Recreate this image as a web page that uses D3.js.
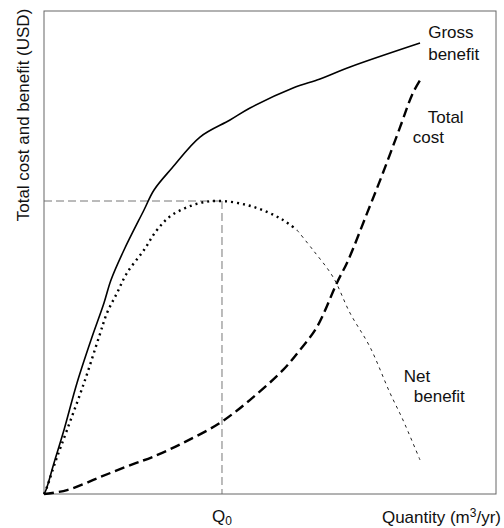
<!DOCTYPE html>
<html>
<head>
<meta charset="utf-8">
<script src="https://cdn.jsdelivr.net/npm/d3@7"></script>
<style>
  html, body { margin: 0; padding: 0; background: #fff; }
  svg { display: block; font-family: "Liberation Sans", Arial, Helvetica, sans-serif; }
</style>
</head>
<body>
<svg id="chart" width="504" height="528"></svg>
<script>
// ---- Data (relative units, 0-100 on both axes) ----
const grossX = [0, 0.44, 2.21, 4.42, 7.30, 10.40, 13.27, 14.82, 17.70, 22.12, 24.34, 28.32, 34.51, 41.15, 45.58, 55.09, 61.06, 67.70, 83.19];
const grossY = [0, 0.83, 6.42, 13.25, 22.98, 31.88, 39.54, 44.31, 50.52, 58.80, 62.94, 67.49, 73.91, 77.43, 79.92, 84.06, 85.92, 88.41, 93.37];

const costX = [0, 5.1, 12.4, 19.7, 24.1, 30.8, 38.9, 45.6, 52.9, 56.6, 60.4, 64.8, 67.3, 71.5, 75.0, 78.8, 81.6, 83.6];
const costY = [0, 0.8, 3.5, 6.2, 7.7, 10.6, 14.7, 19.5, 25.7, 29.8, 34.6, 43.7, 48.4, 58.2, 66.5, 76.0, 83.0, 86.3];

const netX = [0, 0.66, 2.65, 5.09, 8.85, 12.17, 13.94, 16.15, 18.36, 22.12, 25.00, 28.32, 34.51, 39.38, 44.91, 49.34, 52.88, 55.97, 59.51, 63.94, 67.70, 72.12, 76.55, 79.42, 83.19];
const netY = [0, 1.45, 7.04, 13.25, 22.98, 32.51, 37.47, 41.61, 45.76, 50.52, 54.66, 57.76, 60.25, 60.66, 59.83, 58.39, 56.73, 54.66, 50.52, 44.93, 37.47, 30.43, 20.91, 15.32, 7.04];

const optimumQ = 39.38;     // Q0
const optimumNet = 60.66;   // net benefit at Q0

const seriesLabels = [
  { lines: ["Gross", "benefit"], x: 85.0, y: [94.4, 89.9], dx: [0, 0] },
  { lines: ["Total", "cost"], x: 84.9, y: [76.8, 72.7], dx: [0, -15] },
  { lines: ["Net", "benefit"], x: 79.6, y: [23.2, 19.0], dx: [0, 10] }
];
const xTitle = "Quantity (m";
const yTitle = "Total cost and benefit (USD)";

// ---- Layout ----
const svg = d3.select("#chart");
const mLeft = 44, mRight = 496, mTop = 11, mBottom = 494;
const x = d3.scaleLinear().domain([0, 100]).range([mLeft, mRight]);
const y = d3.scaleLinear().domain([0, 100]).range([mBottom, mTop]);
const FS = 17;

const zip = (xs, ys) => xs.map((v, i) => [v, ys[i]]);
const line = d3.line().x(d => x(d[0])).y(d => y(d[1])).curve(d3.curveCatmullRom.alpha(0.5));

// reference lines at optimum
svg.append("line")
  .attr("x1", x(0)).attr("x2", x(optimumQ))
  .attr("y1", y(optimumNet)).attr("y2", y(optimumNet))
  .attr("stroke", "#777").attr("stroke-width", 1).attr("stroke-dasharray", "8,4");
svg.append("line")
  .attr("x1", x(optimumQ)).attr("x2", x(optimumQ))
  .attr("y1", y(optimumNet)).attr("y2", y(0))
  .attr("stroke", "#777").attr("stroke-width", 1).attr("stroke-dasharray", "8,4");

// frame
svg.append("rect")
  .attr("x", x(0)).attr("y", y(100))
  .attr("width", x(100) - x(0)).attr("height", y(0) - y(100))
  .attr("fill", "none").attr("stroke", "#666").attr("stroke-width", 1);

// gross benefit
svg.append("path")
  .attr("d", line(zip(grossX, grossY)))
  .attr("fill", "none").attr("stroke", "#000").attr("stroke-width", 1.6);

// total cost
svg.append("path")
  .attr("d", line(zip(costX, costY)))
  .attr("fill", "none").attr("stroke", "#000").attr("stroke-width", 2.4)
  .attr("stroke-dasharray", "10,5");

// net benefit: thick dots, then thin dashes on the descending part
const netPts = zip(netX, netY);
const split = 17;
svg.append("path")
  .attr("d", line(netPts.slice(0, split + 1)))
  .attr("fill", "none").attr("stroke", "#000").attr("stroke-width", 2.4)
  .attr("stroke-dasharray", "2,4");
svg.append("path")
  .attr("d", line(netPts.slice(split)))
  .attr("fill", "none").attr("stroke", "#222").attr("stroke-width", 1)
  .attr("stroke-dasharray", "3,4");

// series labels
seriesLabels.forEach(l => {
  l.lines.forEach((t, i) => {
    svg.append("text")
      .attr("x", x(l.x) + l.dx[i]).attr("y", y(l.y[i]))
      .attr("font-size", FS).attr("fill", "#111")
      .text(t);
  });
});

// Q0 label
const q = svg.append("text")
  .attr("x", x(optimumQ)).attr("y", 522)
  .attr("text-anchor", "middle").attr("font-size", FS).attr("fill", "#111");
q.append("tspan").text("Q");
q.append("tspan").attr("font-size", 12).attr("dy", 3).text("0");

// x title
const xt = svg.append("text")
  .attr("x", 501).attr("y", 523)
  .attr("text-anchor", "end").attr("font-size", FS).attr("fill", "#111");
xt.append("tspan").text(xTitle);
xt.append("tspan").attr("font-size", 12).attr("dy", -6).text("3");
xt.append("tspan").attr("dy", 6).text("/yr)");

// y title
svg.append("text")
  .attr("transform", "translate(29,115) rotate(-90)")
  .attr("text-anchor", "middle").attr("font-size", FS).attr("fill", "#111")
  .text(yTitle);
</script>
</body>
</html>
